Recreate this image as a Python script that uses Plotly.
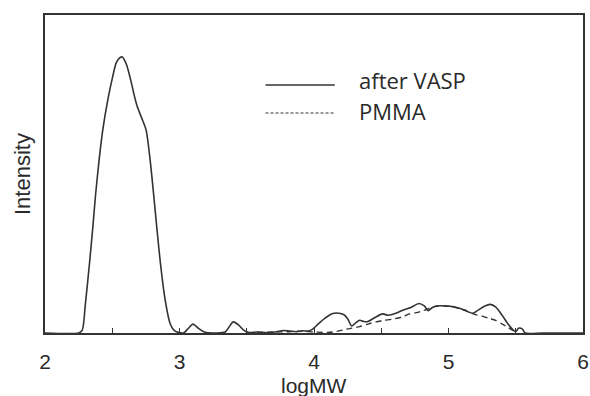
import plotly.graph_objects as go

# after VASP curve (logMW, intensity)
vasp_x = [2.0, 2.25, 2.277, 2.30, 2.331, 2.355, 2.375, 2.40, 2.43, 2.47, 2.50, 2.53, 2.555, 2.575, 2.605,
          2.637, 2.665, 2.686, 2.72, 2.752, 2.784, 2.809, 2.833, 2.858, 2.89, 2.93, 2.96, 2.99, 3.03, 3.06,
          3.10, 3.14, 3.19, 3.27,
          3.34, 3.37, 3.40, 3.44, 3.48, 3.51, 3.58, 3.65, 3.72, 3.77, 3.82, 3.87, 3.92, 3.96, 3.99,
          4.03, 4.08, 4.13, 4.17, 4.22, 4.25, 4.28, 4.31, 4.34, 4.37, 4.40, 4.45, 4.51, 4.55, 4.58,
          4.63, 4.68, 4.72, 4.78, 4.82, 4.85, 4.88, 4.92, 4.98, 5.03, 5.08, 5.12, 5.18, 5.22, 5.27,
          5.31, 5.35, 5.40, 5.44, 5.48, 5.50, 5.52, 5.55, 5.57, 5.7, 6.0]
vasp_y = [0.0, 0.0, 0.009, 0.09, 0.22, 0.33, 0.43, 0.535, 0.64, 0.74, 0.80, 0.85, 0.865, 0.868, 0.845,
          0.796, 0.745, 0.712, 0.675, 0.638, 0.535, 0.43, 0.324, 0.22, 0.113, 0.03, 0.008, 0.002, 0.0, 0.012,
          0.028, 0.015, 0.002, 0.0,
          0.003, 0.02, 0.035, 0.025, 0.008, 0.002, 0.003, 0.001, 0.004, 0.008, 0.006, 0.004, 0.007, 0.006, 0.012,
          0.028, 0.046, 0.06, 0.063, 0.058, 0.045, 0.022, 0.032, 0.04, 0.036, 0.036, 0.048, 0.06, 0.056, 0.058,
          0.066, 0.075, 0.08, 0.093, 0.085, 0.07, 0.08, 0.085, 0.085, 0.083, 0.078, 0.072, 0.062, 0.072, 0.085,
          0.09, 0.082, 0.055, 0.03, 0.01, 0.004, 0.015, 0.012, 0.0, 0.0, 0.0]

# PMMA curve
pmma_x = [3.5, 3.6, 3.7, 3.8, 3.9, 4.0, 4.1, 4.17, 4.24, 4.34, 4.40, 4.46, 4.52, 4.58, 4.65, 4.71,
          4.76, 4.81, 4.86, 4.91, 4.97, 5.03, 5.09, 5.15, 5.20, 5.25, 5.30, 5.35, 5.40, 5.44, 5.48, 5.51]
pmma_y = [0.0, 0.002, 0.003, 0.004, 0.006, 0.003, 0.002, 0.005, 0.012, 0.02, 0.028, 0.035, 0.04, 0.043,
          0.05, 0.06, 0.064, 0.07, 0.078, 0.085, 0.085, 0.083, 0.076, 0.066, 0.058, 0.053, 0.046, 0.04,
          0.028, 0.018, 0.008, 0.0]

x_tickvals = [2, 2.5, 3, 3.5, 4, 4.5, 5, 5.5, 6]
x_ticktext = ["2", "", "3", "", "4", "", "5", "", "6"]
series_names = ["after VASP", "PMMA"]

LINE = "#333333"
fig = go.Figure()
fig.add_trace(go.Scatter(x=vasp_x, y=vasp_y, mode="lines", name=series_names[0],
                         line=dict(color=LINE, width=1.6, shape="spline", smoothing=0.7)))
fig.add_trace(go.Scatter(x=pmma_x, y=pmma_y, mode="lines", name=series_names[1],
                         line=dict(color=LINE, width=1.4, dash="6px,4px", shape="spline", smoothing=0.7)))

fig.update_layout(
    width=590, height=396,
    margin=dict(l=45, r=1, t=15, b=63),
    paper_bgcolor="white", plot_bgcolor="white",
    showlegend=False,
    font=dict(family="Liberation Sans, Arial, sans-serif", size=21, color="#2a2a2a"),
    xaxis=dict(range=[2, 6], tickvals=x_tickvals, ticktext=x_ticktext, ticks="inside",
               ticklen=5, tickwidth=1.3, tickcolor=LINE, showline=True, linecolor=LINE,
               linewidth=1.6, mirror=True, showgrid=False, zeroline=False,
               ticklabelstandoff=9, ticklabeloverflow="allow"),
    yaxis=dict(range=[0, 1], showticklabels=False, ticks="", showline=True, linecolor=LINE,
               linewidth=1.6, mirror=True, showgrid=False, zeroline=False),
)

# axis titles
fig.add_annotation(text="logMW", xref="paper", yref="paper", x=(317 - 45) / 544, y=0,
                   yshift=-39, xanchor="center", yanchor="top", showarrow=False,
                   font=dict(size=21))
fig.add_annotation(text="Intensity", xref="paper", yref="paper", x=0, y=0.5, xshift=-23,
                   xanchor="center", yanchor="middle", textangle=-90, showarrow=False,
                   font=dict(size=22))

# legend (drawn manually)
leg_font = dict(family="Open Sans, sans-serif", size=22, color="#2a2a2a")
x0 = (268 - 45) / 544
x1 = (338 - 45) / 544
for i, (name, dash) in enumerate(zip(series_names, ["solid", "3px,2px"])):
    yl = 1 - ((85 + 28 * i) - 15) / 318
    fig.add_shape(type="line", xref="paper", yref="paper", x0=x0, x1=x1, y0=yl, y1=yl,
                  line=dict(color=LINE, width=1.6 if i == 0 else 1.2, dash=dash))
    fig.add_annotation(text=name, xref="paper", yref="paper", x=(360 - 45) / 544,
                       y=1 - ((80 + 31 * i) - 15) / 318, xanchor="left", yanchor="middle",
                       showarrow=False, font=leg_font)

fig.write_html("out.html")
